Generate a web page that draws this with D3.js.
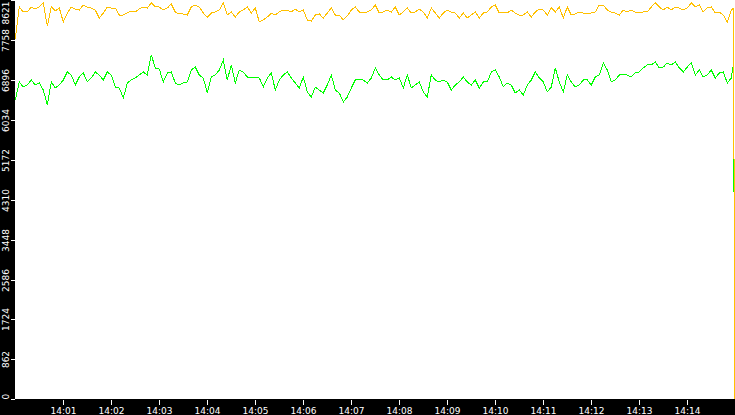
<!DOCTYPE html>
<html>
<head>
<meta charset="utf-8">
<script src="https://cdn.jsdelivr.net/npm/d3@7"></script>
<style>
  html, body { margin: 0; padding: 0; background: #fff; }
  svg { display: block; }
  text { font-family: "DejaVu Sans", Verdana, sans-serif; font-size: 9px; fill: #fff; }
</style>
</head>
<body>
<script>
// ---- data ----
const startTime = "14:00:00";
const endTime = "14:15:00";
const sampleStepSeconds = 5;            // one reading every 5 s
const tailTimes = ["14:14:58", "14:14:59"];

const yTickLabels = ["0", "862", "1724", "2586", "3448", "4310", "5172", "6034", "6896", "7758", "8621"];
const xTickLabels = ["14:01", "14:02", "14:03", "14:04", "14:05", "14:06", "14:07", "14:08", "14:09", "14:10", "14:11", "14:12", "14:13", "14:14"];
const yMax = 8621;

const seriesOrange = [
  7780, 8470, 8362, 8362, 8470, 8427, 8470, 8556, 8060, 8470, 8384, 8448, 8146, 8340, 8470, 8427, 8405, 8513, 8470, 8448,
  8405, 8232, 8340, 8470, 8448, 8448, 8297, 8297, 8340, 8384, 8362, 8427, 8470, 8448, 8556, 8470,
  8470, 8405, 8448, 8535, 8362, 8319, 8319, 8297, 8470, 8513, 8470, 8340, 8254, 8340, 8362, 8405, 8556, 8297, 8362, 8254,
  8362, 8405, 8470, 8340, 8448, 8146, 8189, 8254, 8340, 8297, 8362, 8405, 8405, 8362, 8427, 8362,
  8405, 8189, 8168, 8297, 8319, 8232, 8340, 8448, 8297, 8297, 8189, 8276, 8405, 8470, 8362, 8340, 8362, 8405, 8513, 8340,
  8362, 8405, 8362, 8470, 8297, 8362, 8448, 8340, 8362, 8427, 8362, 8232, 8448, 8340, 8232, 8340,
  8405, 8362, 8340, 8232, 8340, 8232, 8297, 8362, 8232, 8340, 8362, 8470, 8513, 8340, 8362, 8340, 8405, 8340, 8297, 8297,
  8362, 8254, 8362, 8427, 8405, 8297, 8448, 8362, 8470, 8232, 8470, 8297, 8319, 8362, 8340, 8340,
  8340, 8362, 8513, 8513, 8405, 8362, 8340, 8297, 8405, 8362, 8405, 8362, 8340, 8362, 8362, 8470, 8556, 8470, 8405, 8470,
  8405, 8470, 8448, 8405, 8448, 8556, 8470, 8513, 8362, 8448, 8470, 8340, 8362, 8297, 8146, 8405,
  8448, 0
];

const seriesGreen = [
  6462, 6851, 6743, 6786, 6894, 6786, 6829, 6678, 6354, 6851, 6721, 6786, 6894, 7067, 7002, 6786, 6959, 7045, 6851, 6937,
  7067, 7002, 6894, 7067, 7002, 6743, 6721, 6505, 6829, 6894, 6937, 7002, 7067, 7002, 7434, 7153,
  7131, 6851, 7045, 7067, 6829, 6786, 6829, 6851, 7110, 7174, 7002, 6937, 6613, 6959, 7002, 7110, 7326, 6894, 7218, 6829,
  7110, 7067, 6959, 6937, 6959, 6937, 6743, 6937, 7045, 6678, 6894, 7002, 7067, 6937, 6829, 6721,
  6959, 6635, 6527, 6743, 6678, 6613, 6786, 7002, 6678, 6613, 6419, 6527, 6721, 6894, 6894, 6894, 6829, 6937, 7153, 7002,
  6894, 6894, 6959, 6894, 6937, 6721, 7002, 6721, 6786, 6851, 6635, 6527, 7002, 6894, 6851, 6894,
  6851, 6678, 6786, 6851, 6959, 6851, 6786, 6894, 6721, 6851, 6851, 7067, 7110, 6959, 6743, 6829, 6786, 6613, 6678, 6570,
  6786, 6894, 7067, 6937, 6851, 6635, 6743, 7153, 6851, 6635, 7002, 6851, 6743, 6786, 6894, 6894,
  6786, 6959, 7002, 7261, 7110, 6851, 6894, 7002, 7002, 7002, 6959, 7045, 7067, 7153, 7218, 7218, 7283, 7153, 7174, 7261,
  7218, 7283, 7153, 7067, 7174, 7261, 7002, 7110, 6959, 7002, 7110, 6937, 7045, 7067, 6829, 6937,
  7283, 0
];

// ---- build time axis for the readings ----
const parseT = d3.timeParse("%H:%M:%S");
const t0 = parseT(startTime), t1 = parseT(endTime);
const regularCount = seriesOrange.length - tailTimes.length;
const times = d3.range(regularCount).map(i => new Date(t0.getTime() + i * sampleStepSeconds * 1000))
  .concat(tailTimes.map(parseT));

const W = 735, H = 415;
const plotLeft = 15.3, plotRight = 735.3, plotTop = 0, plotBottom = 399.3;

const svg = d3.select("body").append("svg").attr("width", W).attr("height", H);

// background strips
svg.append("rect").attr("x", 0).attr("y", 0).attr("width", W).attr("height", H).attr("fill", "#fff");
svg.append("rect").attr("x", 0).attr("y", 0).attr("width", 15).attr("height", H).attr("fill", "#000");
svg.append("rect").attr("x", 0).attr("y", 399).attr("width", W).attr("height", H - 399).attr("fill", "#000");

const x = d3.scaleTime().domain([t0, t1]).range([plotLeft, plotRight]);
const y = d3.scaleLinear().domain([0, yMax]).range([plotBottom, plotTop]);

const plot = svg.append("g");
const line = d3.line().x((d, i) => x(times[i])).y(d => y(d));

plot.append("path").datum(seriesGreen)
  .attr("d", line).attr("fill", "none").attr("stroke", "#00ff00").attr("stroke-width", 1)
  .attr("shape-rendering", "crispEdges");
plot.append("path").datum(seriesOrange)
  .attr("d", line).attr("fill", "none").attr("stroke", "#ffc000").attr("stroke-width", 1)
  .attr("shape-rendering", "crispEdges");

// y axis (rotated labels)
const yAxis = svg.append("g");
yTickLabels.forEach(lbl => {
  const v = +lbl;
  const py = Math.round(y(v));
  yAxis.append("line").attr("x1", 11).attr("x2", 15).attr("y1", py + 0.5).attr("y2", py + 0.5)
    .attr("stroke", "#fff").attr("stroke-width", 1).attr("shape-rendering", "crispEdges");
  const t = yAxis.append("text").text(lbl).attr("text-anchor", "middle");
  const w = t.node().getComputedTextLength();
  const cy = Math.max(w / 2 + 1.5, Math.min(399.5 - w / 2, py + 0.5));
  t.attr("transform", `translate(8.6,${cy}) rotate(-90)`);
});

// x axis
const parseHM = d3.timeParse("%H:%M");
const xAxis = svg.append("g");
xTickLabels.forEach(lbl => {
  const px = Math.round(x(parseHM(lbl)) - 0.3);
  xAxis.append("line").attr("x1", px + 0.5).attr("x2", px + 0.5).attr("y1", 400).attr("y2", 405)
    .attr("stroke", "#fff").attr("stroke-width", 1).attr("shape-rendering", "crispEdges");
  xAxis.append("text").text(lbl).attr("x", px + 0.5).attr("y", 414).attr("text-anchor", "middle");
});
</script>
</body>
</html>
